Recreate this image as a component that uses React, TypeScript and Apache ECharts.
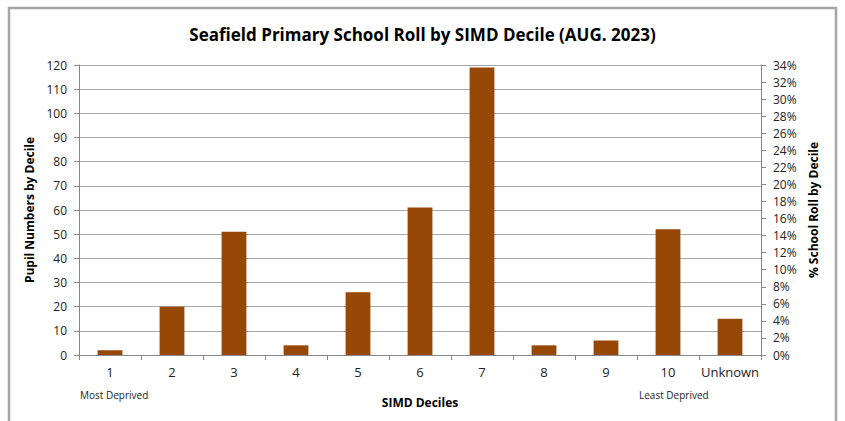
import React, { useEffect, useRef } from "react";
import * as echarts from "echarts";

const categories = ["1", "2", "3", "4", "5", "6", "7", "8", "9", "10", "Unknown"];
const pupils = [2, 20, 51, 4, 26, 61, 119, 4, 6, 52, 15];
const leftTicks = { min: 0, max: 120, interval: 10 };
const rightTicks = { min: 0, max: 34, interval: 2 };
const titleText = "Seafield Primary School Roll by SIMD Decile (AUG. 2023)";
const leftName = "Pupil Numbers by Decile";
const rightName = "% School Roll by Decile";
const xName = "SIMD Deciles";
const leftNote = "Most Deprived";
const rightNote = "Least Deprived";

const FONT = "'Open Sans', 'Noto Sans', sans-serif";

export default function App() {
  const ref = useRef<HTMLDivElement>(null);
  useEffect(() => {
    if (!ref.current) return;
    const chart = echarts.init(ref.current, null, { renderer: "svg" });
    chart.setOption({
      animation: false,
      backgroundColor: "#ffffff",
      textStyle: { fontFamily: FONT },
      title: {
        text: titleText,
        left: "center",
        top: 21,
        textStyle: { fontFamily: FONT, fontSize: 17, fontWeight: "bold", color: "#000" },
      },
      grid: { left: 79, right: 84, top: 65, bottom: 66, containLabel: false },
      xAxis: {
        type: "category",
        data: categories,
        name: xName,
        nameLocation: "middle",
        nameGap: 41,
        nameTextStyle: { fontFamily: FONT, fontSize: 12, fontWeight: "bold", color: "#000" },
        axisLine: { lineStyle: { color: "#888", width: 1 } },
        axisTick: { show: true, length: 5, lineStyle: { color: "#888" } },
        axisLabel: { interval: 0, fontFamily: FONT, fontSize: 13, color: "#222", margin: 10 },
      },
      yAxis: [
        {
          type: "value",
          min: leftTicks.min,
          max: leftTicks.max,
          interval: leftTicks.interval,
          name: leftName,
          nameLocation: "middle",
          nameGap: 41,
          nameTextStyle: { fontFamily: FONT, fontSize: 12, fontWeight: "bold", color: "#000" },
          axisLine: { show: true, lineStyle: { color: "#888" } },
          axisTick: { show: true, length: 5, lineStyle: { color: "#888" } },
          axisLabel: { fontFamily: FONT, fontSize: 12, color: "#222", margin: 12 },
          splitLine: { show: true, lineStyle: { color: "#a6a6a6", width: 1 } },
        },
        {
          type: "value",
          position: "right",
          min: rightTicks.min,
          max: rightTicks.max,
          interval: rightTicks.interval,
          name: rightName,
          nameLocation: "middle",
          nameGap: 45,
          nameRotate: 90,
          nameTextStyle: { fontFamily: FONT, fontSize: 12, fontWeight: "bold", color: "#000" },
          axisLine: { show: true, lineStyle: { color: "#888" } },
          axisTick: { show: true, length: 5, lineStyle: { color: "#888" } },
          axisLabel: { fontFamily: FONT, fontSize: 12, color: "#222", margin: 12, formatter: "{value}%" },
          splitLine: { show: false },
        },
      ],
      series: [
        {
          type: "bar",
          data: pupils,
          yAxisIndex: 0,
          barWidth: "40%",
          itemStyle: { color: "#974706" },
        },
      ],
      graphic: [
        {
          type: "rect",
          shape: { x: 9, y: 8, width: 827, height: 460 },
          style: { fill: "none", stroke: "#a6a6a6", lineWidth: 2.5 },
          silent: true,
        },
        {
          type: "text",
          left: 80,
          top: 390,
          style: { text: leftNote, fontFamily: FONT, fontSize: 10, fill: "#222" },
        },
        {
          type: "text",
          left: 639,
          top: 390,
          style: { text: rightNote, fontFamily: FONT, fontSize: 10, fill: "#222" },
        },
      ],
    });
    return () => chart.dispose();
  }, []);
  return (
    <div
      ref={ref}
      style={{ position: "absolute", left: 0, top: 0, width: 845, height: 421 }}
    />
  );
}
